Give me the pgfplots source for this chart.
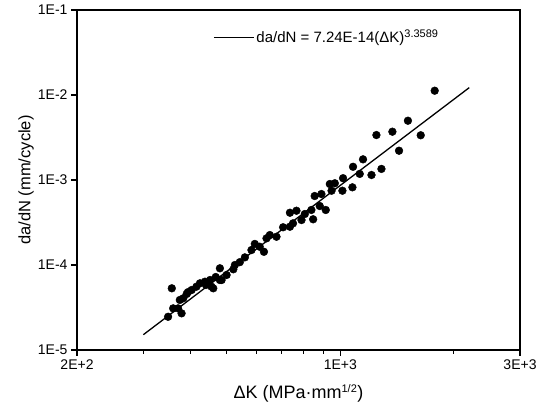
\documentclass[border=0pt]{standalone}
\usepackage{pgfplots}
\pgfplotsset{compat=1.18}
\usepackage{fontspec}
\setmainfont{Liberation Sans}
\begin{document}
\begin{tikzpicture}
\begin{axis}[
    xmode=log, ymode=log,
    scale only axis,
    width=443pt, height=340pt,
    xmin=200, xmax=3000,
    ymin=1e-5, ymax=1e-1,
    axis line style={line width=1.6pt},
    tick align=outside,
    xtick pos=bottom, ytick pos=left,
    xtick={200,1000,3000},
    xticklabels={2E+2,1E+3,3E+3},
    minor xtick={300,400,500,600,700,800,900,2000},
    ytick={1e-5,1e-4,1e-3,1e-2,1e-1},
    yticklabels={1E-5,1E-4,1E-3,1E-2,1E-1},
    minor y tick style={draw=none},
    major tick length=6pt, minor tick length=4pt,
    tick style={black, line width=1.1pt},
    ticklabel style={font=\fontsize{14}{16}\selectfont},
    xlabel={ΔK (MPa·mm\textsuperscript{\fontsize{11}{12}\selectfont 1/2})},
    ylabel={da/dN (mm/cycle)},
    xlabel style={font=\fontsize{18}{20}\selectfont, at={(axis description cs:0.5,-0.128)}, anchor=center},
    ylabel style={font=\fontsize{16.5}{19}\selectfont, at={(axis description cs:-0.115,0.5)}, anchor=center},
    legend style={at={(axis description cs:0.30,0.92)}, anchor=west, draw=none, fill=none,
        font=\fontsize{15}{17}\selectfont},
    legend cell align=left,
]
% measured points
\addplot[only marks, mark=*, mark size=3.9pt, black, forget plot] coordinates {
(1781,1.123e-2) (1512,4.98e-3) (1375,3.70e-3) (1247,3.38e-3) (1635,3.36e-3)
(1432,2.21e-3) (1286,1.35e-3) (1210,1.145e-3) (1149,1.75e-3) (1081,1.43e-3)
(1126,1.18e-3) (1017,1.05e-3) (1077,8.2e-4) (1013,7.48e-4) (938,8.97e-4)
(967,9.15e-4) (948,7.48e-4) (891,6.84e-4) (855,6.48e-4) (882,4.94e-4)
(915,4.44e-4) (838,4.44e-4) (805,3.98e-4) (765,4.35e-4) (735,4.12e-4)
(847,3.45e-4) (789,3.38e-4) (749,3.09e-4) (705,2.78e-4) (735,2.82e-4)
(677,2.15e-4) (650,2.25e-4) (637,2.06e-4) (611,1.64e-4) (627,1.43e-4)
(581,1.50e-4) (558,1.23e-4) (525,1.0e-4) (520,8.9e-5) (479,9.15e-5)
(499,7.63e-5) (479,6.66e-5) (451,6.66e-5) (437,6.36e-5) (460,5.32e-5)
(424,6.09e-5) (415,5.56e-5) (403,5.08e-5) (391,4.56e-5) (383,4.06e-5)
(357,5.32e-5) (375,3.88e-5) (371,3.09e-5) (360,3.09e-5) (379,2.70e-5)
(349,2.46e-5) (455,5.56e-5) (484,6.66e-5) (394,4.79e-5) (440,5.82e-5)
(467,7.22e-5) (541,1.08e-4) (593,1.77e-4)
};
% fitted power law
\addplot[black, line width=1.3pt,
    legend image code/.code={\draw[black, line width=1.3pt] (0pt,0pt) -- (40pt,0pt);}]
    coordinates {(300,1.514e-5) (2200,1.221e-2)};
\addlegendentry{da/dN = 7.24E-14(ΔK)\textsuperscript{\fontsize{11}{12}\selectfont 3.3589}}
\end{axis}
\path (current axis.south west) ++(-77pt,-55pt) rectangle ++(545pt,405pt);
\end{tikzpicture}
\end{document}
